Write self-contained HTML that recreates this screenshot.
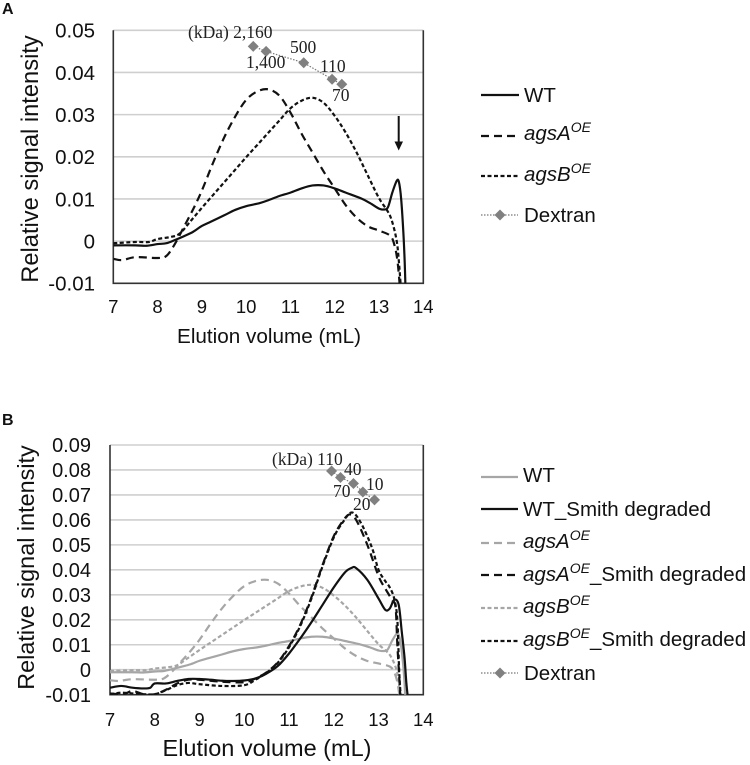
<!DOCTYPE html>
<html lang="en">
<head>
<meta charset="utf-8">
<title>Elution profiles</title>
<style>
html,body{margin:0;padding:0;background:#fff;}
svg{display:block;}
text{font-family:"Liberation Sans",Arial,sans-serif;fill:#111;}
.kda{font-family:"Liberation Serif","Times New Roman",serif;font-size:17.5px;fill:#222;}
.leg{font-size:20.5px;}
.leg tspan.sup{font-size:14px;}
</style>
</head>
<body>
<svg id="fig" width="750" height="765" viewBox="0 0 750 765" xmlns="http://www.w3.org/2000/svg">
  <text x="2" y="14" font-size="16" font-weight="bold">A</text>
  <text x="2" y="425" font-size="16" font-weight="bold">B</text>

  <text transform="translate(38,159) rotate(-90)" text-anchor="middle" font-size="23.7">Relative signal intensity</text>
  <text x="269" y="343" text-anchor="middle" font-size="20.7">Elution volume (mL)</text>
  <text transform="translate(34,567.5) rotate(-90)" text-anchor="middle" font-size="23.4">Relative signal intensity</text>
  <text x="267" y="756" text-anchor="middle" font-size="23.5">Elution volume (mL)</text>

  <g id="gridA"></g>
  <g id="gridB"></g>
  <g id="seriesA"></g>
  <g id="seriesB"></g>

  <g>
    <text class="kda" x="188" y="38">(kDa) 2,160</text>
    <text class="kda" x="246" y="68">1,400</text>
    <text class="kda" x="290" y="53">500</text>
    <text class="kda" x="320" y="72">110</text>
    <text class="kda" x="332" y="101">70</text>
  </g>
  <g>
    <text class="kda" x="272" y="465">(kDa) 110</text>
    <text class="kda" x="344" y="475">40</text>
    <text class="kda" x="333" y="497">70</text>
    <text class="kda" x="366" y="490">10</text>
    <text class="kda" x="353" y="510">20</text>
  </g>

  <g>
    <line x1="398.7" y1="116" x2="398.7" y2="144" stroke="#111" stroke-width="2"/>
    <polygon points="394.5,141.5 403,141.5 398.7,150.5" fill="#111"/>
  </g>

  <g>
    <g>
      <line x1="481" y1="95" x2="519" y2="95" stroke="#111" stroke-width="2.2"/>
      <text class="leg" x="524" y="102">WT</text>
    </g>
    <g>
      <line x1="481" y1="136" x2="520" y2="136" stroke="#111" stroke-width="2.2" stroke-dasharray="8 5"/>
      <text class="leg" x="524" y="140"><tspan font-style="italic">agsA</tspan><tspan class="sup" font-style="italic" dy="-8">OE</tspan></text>
    </g>
    <g>
      <line x1="481" y1="176" x2="520" y2="176" stroke="#111" stroke-width="2.2" stroke-dasharray="4 2.5"/>
      <text class="leg" x="524" y="181"><tspan font-style="italic">agsB</tspan><tspan class="sup" font-style="italic" dy="-8">OE</tspan></text>
    </g>
    <g>
      <line x1="481" y1="215" x2="518" y2="215" stroke="#777" stroke-width="1.2" stroke-dasharray="1.5 1.5"/>
      <polygon points="500,209.5 505.5,215 500,220.5 494.5,215" fill="#808080"/>
      <text class="leg" x="524" y="222">Dextran</text>
    </g>
  </g>

  <g>
    <g>
      <line x1="481" y1="477" x2="518" y2="477" stroke="#a6a6a6" stroke-width="2.2"/>
      <text class="leg" x="523" y="482">WT</text>
    </g>
    <g>
      <line x1="481" y1="509" x2="518" y2="509" stroke="#111" stroke-width="2.2"/>
      <text class="leg" x="523" y="516">WT_Smith degraded</text>
    </g>
    <g>
      <line x1="481" y1="543" x2="519" y2="543" stroke="#a6a6a6" stroke-width="2.2" stroke-dasharray="8 5"/>
      <text class="leg" x="523" y="548"><tspan font-style="italic">agsA</tspan><tspan class="sup" font-style="italic" dy="-8">OE</tspan></text>
    </g>
    <g>
      <line x1="481" y1="575" x2="519" y2="575" stroke="#111" stroke-width="2.2" stroke-dasharray="8 5"/>
      <text class="leg" x="523" y="581"><tspan font-style="italic">agsA</tspan><tspan class="sup" font-style="italic" dy="-8">OE</tspan><tspan dy="8">_Smith degraded</tspan></text>
    </g>
    <g>
      <line x1="481" y1="608" x2="519" y2="608" stroke="#a6a6a6" stroke-width="2.2" stroke-dasharray="4 2.5"/>
      <text class="leg" x="523" y="613"><tspan font-style="italic">agsB</tspan><tspan class="sup" font-style="italic" dy="-8">OE</tspan></text>
    </g>
    <g>
      <line x1="481" y1="641" x2="519" y2="641" stroke="#111" stroke-width="2.2" stroke-dasharray="4 2.5"/>
      <text class="leg" x="523" y="646"><tspan font-style="italic">agsB</tspan><tspan class="sup" font-style="italic" dy="-8">OE</tspan><tspan dy="8">_Smith degraded</tspan></text>
    </g>
    <g>
      <line x1="481" y1="673" x2="518" y2="673" stroke="#777" stroke-width="1.2" stroke-dasharray="1.5 1.5"/>
      <polygon points="500,667.5 505.5,673 500,678.5 494.5,673" fill="#808080"/>
      <text class="leg" x="524" y="680">Dextran</text>
    </g>
  </g>
</svg>
<script>
// Tick labels
var xTickLabels = [7, 8, 9, 10, 11, 12, 13, 14];
var yTicksA = ['0.05', '0.04', '0.03', '0.02', '0.01', '0', '-0.01'];
var yTicksB = ['0.09', '0.08', '0.07', '0.06', '0.05', '0.04', '0.03', '0.02', '0.01', '0', '-0.01'];

// Shared series: WT
var wtX = [7, 7.5, 7.75, 8, 8.2, 8.4, 8.6, 8.8, 9, 9.2, 9.5, 9.75, 10, 10.3, 10.5, 10.75, 11, 11.25, 11.5, 11.75, 12, 12.25, 12.6, 12.8, 13, 13.1, 13.2, 13.3, 13.4, 13.45, 13.5, 13.55, 13.58, 13.6];
var wtY = [-0.001, -0.001, -0.0011, -0.0007, -0.0005, 0.0003, 0.0012, 0.0022, 0.0036, 0.0046, 0.0061, 0.0074, 0.0083, 0.009, 0.0097, 0.0107, 0.0115, 0.0125, 0.0132, 0.0132, 0.0125, 0.0115, 0.0101, 0.009, 0.0077, 0.0075, 0.008, 0.0115, 0.0143, 0.014, 0.01, 0.002, -0.005, -0.012];

// agsA OE
var agsAX = [7, 7.2, 7.5, 8, 8.2, 8.4, 8.6, 8.8, 9, 9.25, 9.5, 9.75, 10, 10.25, 10.5, 10.75, 11, 11.25, 11.5, 11.75, 12, 12.25, 12.5, 12.75, 13, 13.25, 13.35, 13.42, 13.48];
var agsAY = [-0.0042, -0.0045, -0.0038, -0.004, -0.0035, -0.0005, 0.0035, 0.0075, 0.012, 0.0185, 0.0245, 0.0295, 0.0335, 0.0355, 0.036, 0.0345, 0.0305, 0.0255, 0.021, 0.0165, 0.0125, 0.0085, 0.0055, 0.0035, 0.0025, 0.0013, -0.001, -0.005, -0.012];

// agsB OE
var agsBX = [7, 7.5, 7.8, 8, 8.3, 8.5, 8.75, 9, 9.25, 9.5, 9.75, 10, 10.25, 10.5, 10.75, 11, 11.25, 11.5, 11.75, 12, 12.25, 12.5, 12.75, 13, 13.2, 13.3, 13.4, 13.45, 13.5];
var agsBY = [-0.0005, -0.0002, -0.0002, 0.0005, 0.001, 0.0018, 0.0048, 0.0079, 0.0109, 0.0139, 0.0169, 0.0199, 0.0228, 0.0257, 0.0286, 0.0315, 0.0333, 0.034, 0.0328, 0.0297, 0.0257, 0.0209, 0.0155, 0.0102, 0.007, 0.0045, 0, -0.005, -0.012];

// Smith degraded series (panel B)
var wtSmithX = [7, 7.25, 7.5, 7.75, 7.9, 8, 8.25, 8.5, 8.75, 9, 9.25, 9.5, 9.75, 10, 10.25, 10.5, 10.75, 11, 11.25, 11.5, 11.75, 12, 12.25, 12.4, 12.5, 12.75, 13, 13.15, 13.25, 13.35, 13.45, 13.52, 13.58, 13.62, 13.66];
var wtSmithY = [-0.0072, -0.0065, -0.0072, -0.0075, -0.0072, -0.0055, -0.0055, -0.0045, -0.0037, -0.0037, -0.004, -0.0044, -0.0045, -0.0043, -0.0035, -0.0015, 0.0015, 0.0065, 0.0125, 0.019, 0.026, 0.033, 0.039, 0.0408, 0.0407, 0.036, 0.0285, 0.024, 0.0245, 0.028, 0.026, 0.015, 0.005, -0.005, -0.012];
var agsASmithX = [7, 7.3, 7.5, 7.75, 8, 8.25, 8.5, 8.75, 9, 9.5, 10, 10.25, 10.5, 10.75, 11, 11.25, 11.5, 11.75, 12, 12.2, 12.35, 12.5, 12.75, 13, 13.15, 13.3, 13.38, 13.42, 13.46, 13.49];
var agsASmithY = [-0.0095, -0.0098, -0.0085, -0.0098, -0.0098, -0.008, -0.0055, -0.004, -0.004, -0.0048, -0.005, -0.0035, -0.001, 0.003, 0.0095, 0.018, 0.029, 0.042, 0.0535, 0.0595, 0.0622, 0.06, 0.05, 0.0375, 0.0325, 0.028, 0.025, 0.01, -0.002, -0.012];
var agsBSmithX = [7, 7.25, 7.5, 7.75, 8, 8.25, 8.5, 8.75, 9, 9.5, 10, 10.25, 10.5, 10.75, 11, 11.25, 11.5, 11.75, 12, 12.2, 12.4, 12.6, 12.85, 13, 13.15, 13.25, 13.35, 13.42, 13.46, 13.5];
var agsBSmithY = [-0.0098, -0.0092, -0.0095, -0.0098, -0.0098, -0.0082, -0.0062, -0.0053, -0.0058, -0.0065, -0.0062, -0.004, -0.0012, 0.0028, 0.009, 0.0175, 0.0285, 0.0415, 0.053, 0.059, 0.063, 0.059, 0.049, 0.04, 0.0355, 0.033, 0.0285, 0.02, 0, -0.012];

// Dextran size standards
var dextranXA = [10.16, 10.45, 11.3, 11.94, 12.16];
var dextranYA = [0.0462, 0.045, 0.0423, 0.0384, 0.0372];
var dextranXB = [11.95, 12.15, 12.44, 12.65, 12.91];
var dextranYB = [0.0796, 0.077, 0.0746, 0.0712, 0.068];

var NS = 'http://www.w3.org/2000/svg';
var fig = document.getElementById('fig');

function make(tag, attrs, parent) {
  var el = document.createElementNS(NS, tag);
  for (var k in attrs) { el.setAttribute(k, attrs[k]); }
  parent.appendChild(el);
  return el;
}

function smoothPath(xs, ys, sx, sy) {
  var p = xs.map(function (x, i) { return [sx(x), sy(ys[i])]; });
  var d = 'M' + p[0][0].toFixed(2) + ',' + p[0][1].toFixed(2);
  for (var i = 0; i < p.length - 1; i++) {
    var a = p[Math.max(i - 1, 0)], b = p[i], c = p[i + 1], e = p[Math.min(i + 2, p.length - 1)];
    var c1x = b[0] + (c[0] - a[0]) / 6, c1y = b[1] + (c[1] - a[1]) / 6;
    var c2x = c[0] - (e[0] - b[0]) / 6, c2y = c[1] - (e[1] - b[1]) / 6;
    d += 'C' + c1x.toFixed(2) + ',' + c1y.toFixed(2) + ' ' + c2x.toFixed(2) + ',' + c2y.toFixed(2) + ' ' + c[0].toFixed(2) + ',' + c[1].toFixed(2);
  }
  return d;
}

function frame(panel, gridEl, yLabels, sx, sy, x0, x1, yTop, yBottom, yLabelRight, yLabelSize, xLabelBase, xLabelSize) {
  yLabels.forEach(function (lab) {
    var v = parseFloat(lab);
    if (v > -0.01) {
      var g = make('line', { x1: x0, x2: x1, y1: sy(v), y2: sy(v), stroke: '#cfcfcf', 'stroke-width': 1.6 }, gridEl);
      
      
    }
    var t = make('text', { x: yLabelRight, y: sy(v) + yLabelSize * 0.36, 'text-anchor': 'end', 'font-size': yLabelSize }, gridEl);
    
    
    t.textContent = lab;
  });
  xTickLabels.forEach(function (v) {
    var t = make('text', { x: sx(v), y: xLabelBase, 'text-anchor': 'middle', 'font-size': xLabelSize }, gridEl);
    
    
    t.textContent = v;
  });
  var ax = make('path', { d: 'M' + x0 + ',' + yTop + 'V' + yBottom + 'H' + x1 + 'V' + yTop, fill: 'none', stroke: '#333', 'stroke-width': 1.6 }, gridEl);
  
  
}

function curve(parent, clipId, xs, ys, sx, sy, stroke, dash, name) {
  var attrs = { d: smoothPath(xs, ys, sx, sy), fill: 'none', stroke: stroke, 'stroke-width': 2.2, 'stroke-linejoin': 'round', 'clip-path': 'url(#' + clipId + ')' };
  if (dash) { attrs['stroke-dasharray'] = dash; }
  var el = make('path', attrs, parent);
  
  
}

function dextran(parent, xs, ys, sx, sy, name) {
  var d = xs.map(function (x, i) { return (i ? 'L' : 'M') + sx(x).toFixed(2) + ',' + sy(ys[i]).toFixed(2); }).join('');
  var l = make('path', { d: d, fill: 'none', stroke: '#777', 'stroke-width': 1.2, 'stroke-dasharray': '1.5 1.5' }, parent);
  
  
  xs.forEach(function (x, i) {
    var cx = sx(x), cy = sy(ys[i]), r = 5.5;
    var pts = [[cx, cy - r], [cx + r, cy], [cx, cy + r], [cx - r, cy]].map(function (p) { return p[0].toFixed(2) + ',' + p[1].toFixed(2); }).join(' ');
    var m = make('polygon', { points: pts, fill: '#808080' }, parent);
    
    
  });
}

function clip(id, x, y, w, h) {
  var defs = make('defs', {}, fig);
  var c = make('clipPath', { id: id }, defs);
  make('rect', { x: x, y: y, width: w, height: h }, c);
}

// Panel A
var axA = { x0: 113.3, x1: 423.3, yTop: 30.3, yBottom: 283.3 };
function xA(v) { return axA.x0 + (v - 7) / 7 * (axA.x1 - axA.x0); }
function yA(v) { return axA.yBottom - (v + 0.01) / 0.06 * (axA.yBottom - axA.yTop); }
clip('clipA', axA.x0, axA.yTop, axA.x1 - axA.x0, axA.yBottom - axA.yTop);
frame('panel-a', document.getElementById('gridA'), yTicksA, xA, yA, axA.x0, axA.x1, axA.yTop, axA.yBottom, 95, 20.5, 313, 18.5);
var sA = document.getElementById('seriesA');
curve(sA, 'clipA', agsAX, agsAY, xA, yA, '#111', '8 5', 'series-agsa');
curve(sA, 'clipA', agsBX, agsBY, xA, yA, '#111', '4 2.5', 'series-agsb');
curve(sA, 'clipA', wtX, wtY, xA, yA, '#111', null, 'series-wt');
dextran(sA, dextranXA, dextranYA, xA, yA, 'dextran-a');

// Panel B
var axB = { x0: 110, x1: 423.3, yTop: 445, yBottom: 694.7 };
function xB(v) { return axB.x0 + (v - 7) / 7 * (axB.x1 - axB.x0); }
function yB(v) { return axB.yBottom - (v + 0.01) / 0.1 * (axB.yBottom - axB.yTop); }
clip('clipB', axB.x0, axB.yTop, axB.x1 - axB.x0, axB.yBottom - axB.yTop);
frame('panel-b', document.getElementById('gridB'), yTicksB, xB, yB, axB.x0, axB.x1, axB.yTop, axB.yBottom, 91, 20, 726, 18.5);
var sB = document.getElementById('seriesB');
curve(sB, 'clipB', wtX, wtY, xB, yB, '#a6a6a6', null, 'series-wt-b');
curve(sB, 'clipB', agsAX, agsAY, xB, yB, '#a6a6a6', '8 5', 'series-agsa-b');
curve(sB, 'clipB', agsBX, agsBY, xB, yB, '#a6a6a6', '4 2.5', 'series-agsb-b');
curve(sB, 'clipB', agsASmithX, agsASmithY, xB, yB, '#111', '8 5', 'series-agsa-smith');
curve(sB, 'clipB', agsBSmithX, agsBSmithY, xB, yB, '#111', '4 2.5', 'series-agsb-smith');
curve(sB, 'clipB', wtSmithX, wtSmithY, xB, yB, '#111', null, 'series-wt-smith');
dextran(sB, dextranXB, dextranYB, xB, yB, 'dextran-b');
</script>
</body>
</html>
